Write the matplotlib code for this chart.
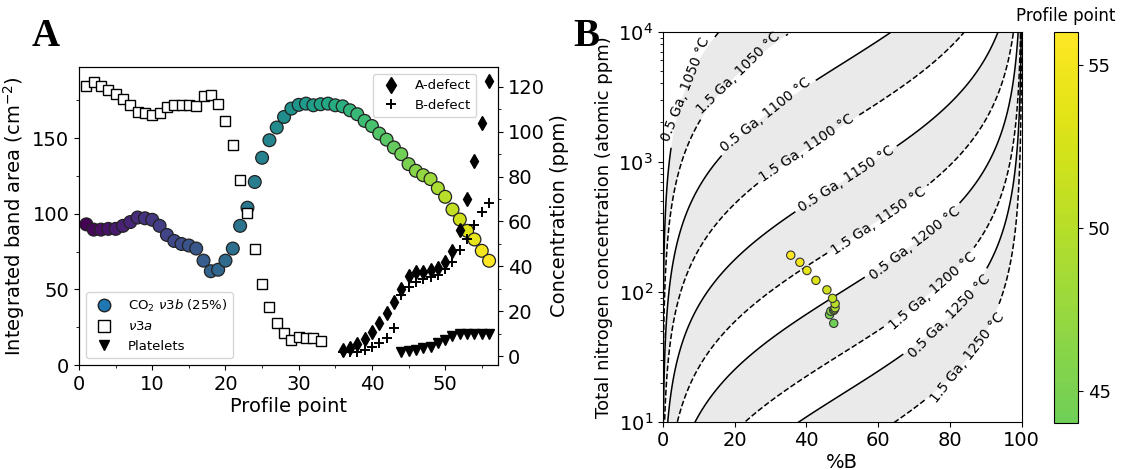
import numpy as np
import matplotlib
matplotlib.use('Agg')
import matplotlib.pyplot as plt
from matplotlib.colors import ListedColormap, Normalize
from matplotlib.lines import Line2D
from matplotlib.ticker import AutoMinorLocator

# ---------------- data (panel A) ----------------
profile_co2 = np.arange(1, 57)
co2_v3b = [93, 89.5, 89.5, 90, 90, 92, 94.5, 97.5, 97, 96, 92, 86, 82, 80, 79, 77,
           69, 62, 63, 69, 77, 92, 104, 121, 137, 148.6, 157, 164, 169.5, 172,
           172.8, 171.7, 172.4, 172.8, 171.7, 171, 168.4, 165.8, 161.4, 158, 153,
           149, 143.8, 139.4, 132.8, 128.4, 125.5, 122.9, 116.9, 111.2, 102.8,
           96.2, 88.7, 83, 75.5, 68.9]

profile_v3a = np.arange(1, 34)
v3a = [184.3, 187, 184.5, 181.6, 179.4, 176, 171.7, 167.3, 166.7, 165, 166.8,
       170.6, 171.7, 171.7, 171.7, 171, 177.7, 178.8, 172.8, 161.4, 145.6, 122.6,
       100.6, 76.8, 53.5, 38.5, 27.9, 20.9, 16.5, 18.7, 18.0, 17.6, 16.0]

profile_platelet = np.arange(44, 57)
platelets = [8.6, 9.2, 9.9, 11.0, 12.1, 14.3, 16.5, 19.4, 20.3, 20.3, 20.3, 20.3, 20.3]

profile_defect = np.arange(36, 57)
a_defect = [2.7, 3.4, 5.2, 7.6, 10.8, 14.6, 19.0, 23.9, 29.9, 35.6, 37.6, 37.6,
            38.3, 39.1, 42.0, 46.8, 56.0, 70.0, 87.0, 104.0, 122.7]
b_defect = [1.8, 1.8, 2.0, 2.8, 3.9, 5.7, 8.2, 12.3, 27.2, 30.9, 33.1, 34.2,
            35.1, 36.1, 38.8, 42.0, 47.2, 52.1, 58.4, 64.3, 68.0]

# ---------------- model isolines (panel B) ----------------
temps_C = [1050, 1100, 1150, 1200, 1250]
ages_Ga = [0.5, 1.5]
Ea_eV = 7.03          # activation energy
A_pre = 7.1e5         # pre-exponential factor (ppm^-1 s^-1)
kB = 8.617e-5
sec_per_Ga = 1e9 * 3.156e7

profile_B_min = 44     # profile points shown in panel B

plt.rcParams['font.family'] = ['DejaVu Sans']

fig = plt.figure(figsize=(11.29, 4.70), dpi=100)
axA = fig.add_axes([0.070, 0.2234, 0.371, 0.634])
axA2 = axA.twinx()
axB = fig.add_axes([0.587, 0.1028, 0.318, 0.830])
cax = fig.add_axes([0.934, 0.0994, 0.021, 0.832])

# ---------------- panel A ----------------
axA.scatter(profile_co2, co2_v3b, c=profile_co2, cmap='viridis', vmin=1, vmax=56,
            s=85, edgecolors='#222222', linewidths=0.9, zorder=2)
axA.plot(profile_v3a, v3a, 's', mfc='white', mec='black', ms=7.5, mew=1.0, zorder=3)
axA.plot(profile_platelet, platelets, 'v', color='black', ms=6.5, zorder=3)
axA2.plot(profile_defect, a_defect, 'd', color='black', ms=7.5)
axA2.plot(profile_defect, b_defect, '+', color='black', ms=6.5, mew=1.4)

axA.set_xlim(0, 57.2)
axA.set_ylim(0, 197)
axA2.set_ylim(-4, 128.8)
axA.set_xticks([0, 10, 20, 30, 40, 50])
axA.set_yticks([0, 50, 100, 150])
axA2.set_yticks([0, 20, 40, 60, 80, 100, 120])
for a in (axA, axA2):
    a.yaxis.set_minor_locator(AutoMinorLocator(2))
    a.tick_params(labelsize=14)
axA.xaxis.set_minor_locator(AutoMinorLocator(2))
axA.set_xlabel('Profile point', fontsize=14, labelpad=2)
axA.set_ylabel('Integrated band area (cm$^{-2}$)', fontsize=14)
axA2.set_ylabel('Concentration (ppm)', fontsize=14)

h1 = [Line2D([], [], marker='o', ls='', mfc='#1f77b4', mec='#222222', ms=9),
      Line2D([], [], marker='s', ls='', mfc='white', mec='black', ms=8),
      Line2D([], [], marker='v', ls='', color='black', ms=7)]
axA.legend(h1, [r'CO$_2$ $\nu\mathit{3b}$ (25%)', r'$\nu\mathit{3a}$', 'Platelets'],
           loc='lower left', bbox_to_anchor=(0.0167, 0.0225), borderaxespad=0,
           fontsize=9.5)
h2 = [Line2D([], [], marker='d', ls='', color='black', ms=8),
      Line2D([], [], marker='+', ls='', color='black', ms=7, mew=1.4)]
axA2.legend(h2, ['A-defect', 'B-defect'], loc='upper left',
            bbox_to_anchor=(0.701, 0.977), borderaxespad=0, fontsize=9.5)

# ---------------- panel B ----------------
axB.set_yscale('log')
axB.set_xlim(0, 100)
axB.set_ylim(10, 1e4)
axB.set_xticks([0, 20, 40, 60, 80, 100])
axB.tick_params(labelsize=14)


def kt_value(T_C, age):
    k = A_pre * np.exp(-Ea_eV / (kB * (T_C + 273.15)))
    return k * age * sec_per_Ga


fx = np.unique(np.concatenate([np.linspace(0.0, 100.0, 900)[1:-1],
                               np.logspace(-4, 0.7, 250),
                               100 - np.logspace(-5, 0.7, 300)]))
ff = fx / 100.0

for T in temps_C:
    n1 = ff / (1 - ff) / kt_value(T, ages_Ga[0])
    n2 = ff / (1 - ff) / kt_value(T, ages_Ga[1])
    axB.fill_between(fx, n1, n2, color='#eaeaea', lw=0, zorder=0)

yy = np.logspace(0.95, 4.05, 700)
X, Y = np.meshgrid(fx, yy)
F = X / 100.0
Z = np.log10(F / (1 - F) / Y)

items = []
for T in temps_C:
    for age in ages_Ga:
        items.append((np.log10(kt_value(T, age)), '-' if age == 0.5 else '--',
                      f'{age} Ga, {T} °C'))
items.sort(key=lambda t: t[0])
levels = [t[0] for t in items]
styles = [t[1] for t in items]
fmt = {t[0]: t[2] for t in items}

cs = axB.contour(X, Y, Z, levels=levels, colors='black', linestyles=styles,
                 linewidths=1.1, zorder=2)
label_pos = [(7.5, 3500), (21.5, 4700), (28, 2450), (40.4, 1250), (52.6, 630),
             (60.5, 335), (70.5, 229), (75.5, 98), (80.5, 63), (85.5, 30)]
labels = axB.clabel(cs, fmt=fmt, inline=True, fontsize=10, manual=label_pos)
for t in labels:
    t.set_clip_on(False)

idx = np.array(profile_defect) >= profile_B_min
A_arr = np.array(a_defect)[idx]
B_arr = np.array(b_defect)[idx]
prof_B = np.array(profile_defect)[idx]
total_N = A_arr + B_arr
pct_B = 100 * B_arr / total_N

cmap_tr = ListedColormap(plt.cm.viridis(np.linspace((44 - 1) / 55, 1, 256)))
norm = Normalize(44, 56)
sc = axB.scatter(pct_B, total_N, c=prof_B, cmap=cmap_tr, norm=norm, s=36,
                 edgecolors='#333333', linewidths=0.8, zorder=4)

axB.set_xlabel('%B', fontsize=14, labelpad=2)
axB.set_ylabel('Total nitrogen concentration (atomic ppm)', fontsize=13)

cb = fig.colorbar(sc, cax=cax, ticks=[45, 50, 55])
cb.ax.tick_params(labelsize=13)
cb.outline.set_linewidth(0.8)
fig.text(1066 / 1129, 1 - 21 / 470, 'Profile point', ha='center', va='baseline',
         fontsize=12)

fig.text(46 / 1129, 1 - 36 / 470, 'A', ha='center', va='center', fontsize=28,
         fontweight='bold', family=['Liberation Serif'])
fig.text(586 / 1129, 1 - 36 / 470, 'B', ha='center', va='center', fontsize=28,
         fontweight='bold', family=['Liberation Serif'])

fig.savefig('out.png', dpi=100)
